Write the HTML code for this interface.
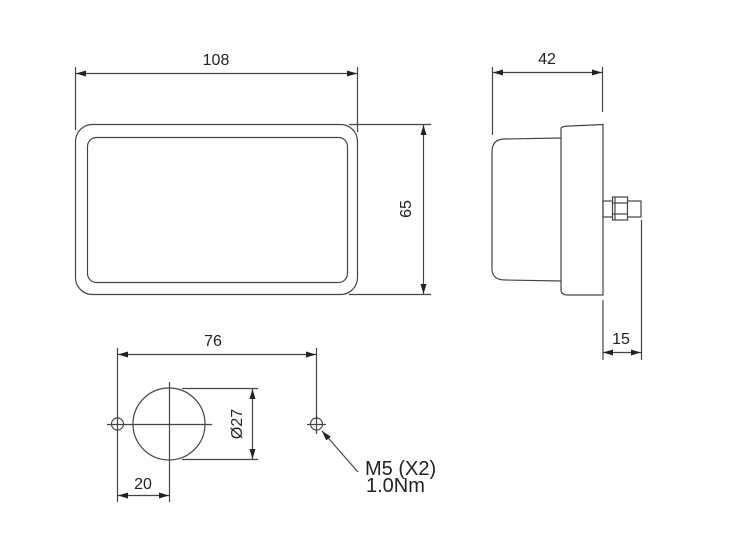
<!DOCTYPE html>
<html><head><meta charset="utf-8"><style>
html,body{margin:0;padding:0;background:#fff;}
svg{display:block;}
text{font-family:"Liberation Sans",Arial,sans-serif;fill:#222;}
</style></head><body>
<svg width="750" height="550" viewBox="0 0 750 550" xmlns="http://www.w3.org/2000/svg">
<defs>
<marker id="a" viewBox="0 0 10 6" refX="10" refY="3" markerWidth="10" markerHeight="6" markerUnits="userSpaceOnUse" orient="auto-start-reverse">
<path d="M0,0 L10,3 L0,6 z" fill="#222"/>
</marker>
</defs>
<g stroke="#444" stroke-width="1.2" fill="none">
<!-- front view -->
<rect x="75.5" y="124.5" width="282" height="170" rx="17" ry="17"/>
<rect x="87.5" y="137.5" width="260" height="145" rx="9" ry="9"/>
<line x1="75.5" y1="67" x2="75.5" y2="130"/>
<line x1="357.5" y1="67" x2="357.5" y2="132"/>
<line x1="76" y1="73.5" x2="357" y2="73.5" marker-start="url(#a)" marker-end="url(#a)"/>
<line x1="349" y1="124.5" x2="431" y2="124.5"/>
<line x1="349" y1="294.5" x2="431" y2="294.5"/>
<line x1="423.5" y1="125" x2="423.5" y2="294" marker-start="url(#a)" marker-end="url(#a)"/>
<!-- side view -->
<line x1="492.5" y1="67" x2="492.5" y2="135"/>
<line x1="602.5" y1="67" x2="602.5" y2="112"/>
<line x1="493" y1="72.5" x2="602" y2="72.5" marker-start="url(#a)" marker-end="url(#a)"/>
<path d="M561,138 L503,139 Q492,140 492,152 L492,270 Q493,280 505,280 L561,281"/>
<path d="M561,290 L561,128 Q563,126 570,126 L603,124.5 L603,295 L568,295 Q561,295 561,290"/>
<rect x="603" y="201" width="38" height="16"/>
<rect x="612.5" y="197" width="15" height="23" fill="#fff"/>
<line x1="615" y1="197" x2="615" y2="220"/>
<line x1="612" y1="203" x2="628" y2="203"/>
<line x1="612" y1="214" x2="628" y2="214"/>
<line x1="603" y1="300" x2="603" y2="360"/>
<line x1="641.5" y1="220" x2="641.5" y2="360"/>
<line x1="603" y1="352.5" x2="641" y2="352.5" marker-start="url(#a)" marker-end="url(#a)"/>
<!-- hole pattern -->
<line x1="117.5" y1="348" x2="117.5" y2="502"/>
<line x1="316.5" y1="348" x2="316.5" y2="420"/>
<line x1="118" y1="354.5" x2="316" y2="354.5" marker-start="url(#a)" marker-end="url(#a)"/>
<circle cx="117.5" cy="424" r="6"/>
<circle cx="316.5" cy="424" r="6"/>
<line x1="107" y1="424.5" x2="212" y2="424.5"/>
<line x1="307" y1="424.5" x2="326" y2="424.5"/>
<line x1="316.5" y1="415" x2="316.5" y2="434"/>
<circle cx="169" cy="424" r="36"/>
<line x1="169.5" y1="382" x2="169.5" y2="502"/>
<line x1="182" y1="388.5" x2="258" y2="388.5"/>
<line x1="182" y1="459.5" x2="258" y2="459.5"/>
<line x1="252.5" y1="389" x2="252.5" y2="459" marker-start="url(#a)" marker-end="url(#a)"/>
<line x1="118" y1="495.5" x2="169" y2="495.5" marker-start="url(#a)" marker-end="url(#a)"/>
<line x1="358" y1="472" x2="322" y2="431" marker-end="url(#a)"/>
</g>
<g font-size="16">
<text x="216" y="65" text-anchor="middle">108</text>
<text x="547" y="64" text-anchor="middle">42</text>
<text x="621" y="344" text-anchor="middle">15</text>
<text x="213" y="346" text-anchor="middle">76</text>
<text x="143" y="489" text-anchor="middle">20</text>
<text transform="translate(411,209) rotate(-90)" text-anchor="middle">65</text>
<text transform="translate(242,424) rotate(-90)" text-anchor="middle">Ø27</text>
</g>
<text x="365" y="475" font-size="20">M5 (X2)</text>
<text x="366" y="492" font-size="20">1.0Nm</text>
</svg>
</body></html>
